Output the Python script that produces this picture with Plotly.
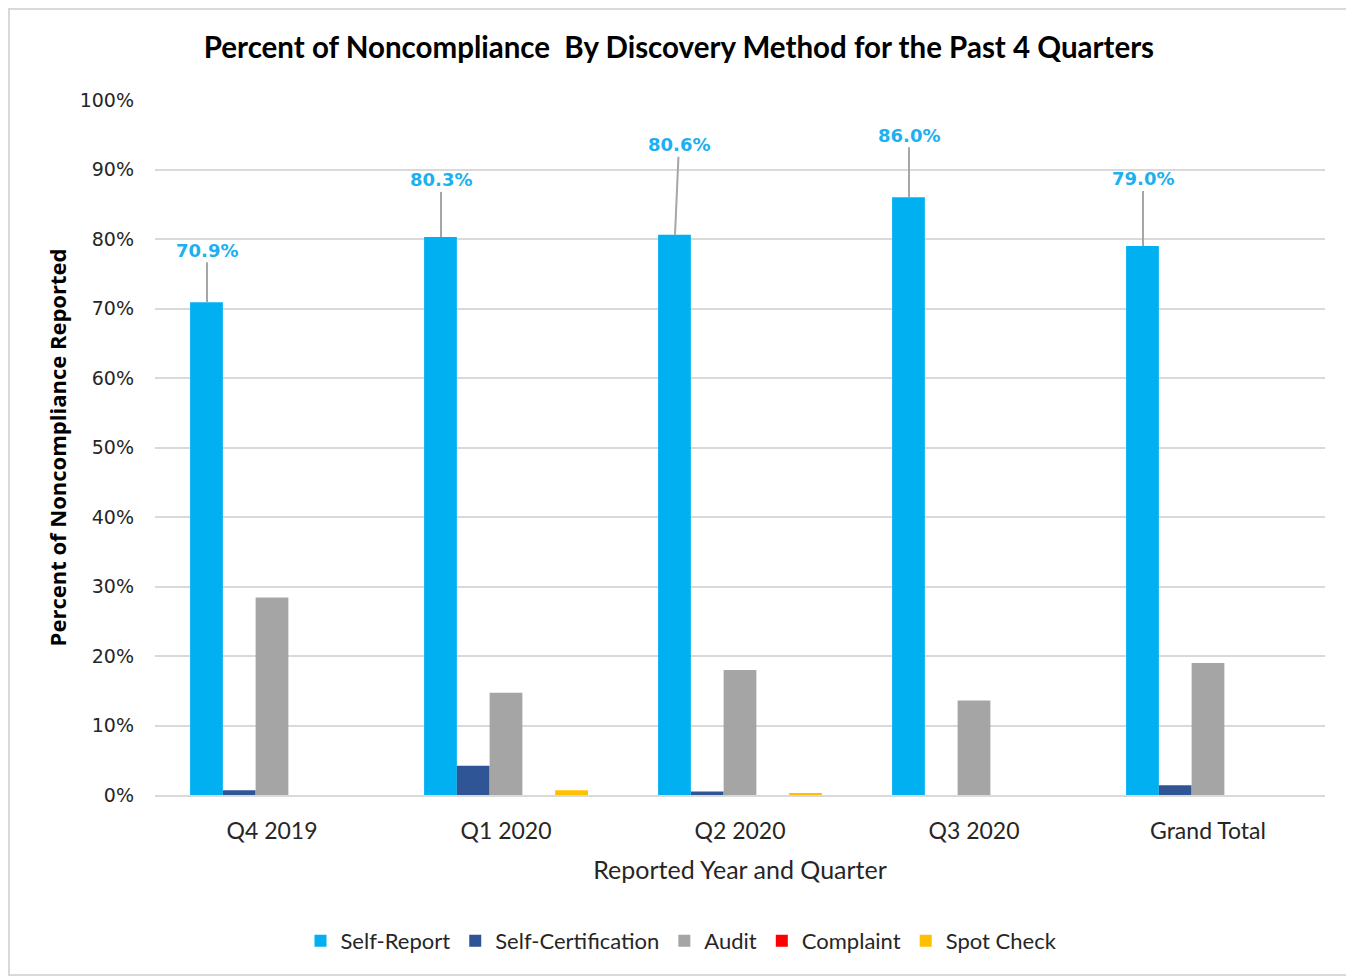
import plotly.graph_objects as go

categories = ["Q4 2019", "Q1 2020", "Q2 2020", "Q3 2020", "Grand Total"]
self_report = [70.9, 80.3, 80.6, 86.0, 79.0]
self_cert = [0.7, 4.2, 0.5, 0.0, 1.4]
audit = [28.4, 14.7, 18.0, 13.6, 19.0]
complaint = [0.0, 0.0, 0.0, 0.0, 0.0]
spot_check = [0.0, 0.7, 0.3, 0.0, 0.0]
y_ticks = [0, 10, 20, 30, 40, 50, 60, 70, 80, 90, 100]
y_tick_labels = [f"{v}%" for v in y_ticks]

series = [
    ("Self-Report", self_report, "#00B0F0"),
    ("Self-Certification", self_cert, "#2F5597"),
    ("Audit", audit, "#A5A5A5"),
    ("Complaint", complaint, "#FF0000"),
    ("Spot Check", spot_check, "#FFC000"),
]

fig = go.Figure()
for name, vals, color in series:
    fig.add_trace(go.Bar(name=name, x=categories, y=vals, marker_color=color,
                         marker_line_width=0))

# data labels for Self-Report with leader lines
label_offsets = [(0, -52), (0, -57), (4, -90), (0, -62), (0, -67)]
for cat, v, (ax, ay) in zip(categories, self_report, label_offsets):
    fig.add_annotation(x=cat, y=v, xref="x", yref="y", xshift=-65,
                       text=f"{v:.1f}%", showarrow=True, arrowhead=0,
                       arrowwidth=2, arrowcolor="#A6A6A6", ax=ax, ay=ay,
                       standoff=0, startstandoff=0,
                       font=dict(family="DejaVu Sans", size=18, color="#1CB0F0",
                                 weight="bold"))

fig.add_shape(type="rect", xref="paper", yref="paper",
              x0=-0.1248, x1=1.0214, y0=-0.259, y1=1.131,
              line=dict(color="#D9D9D9", width=2), layer="below")

fig.update_layout(
    width=1354, height=977,
    margin=dict(l=147, r=37, t=92, b=190),
    paper_bgcolor="white", plot_bgcolor="white",
    barmode="group", bargap=0.3, bargroupgap=0,
    title=dict(text="<b>Percent of Noncompliance  By Discovery Method for the Past 4 Quarters</b>",
               x=0.4955, xanchor="center", y=0.959, yanchor="middle",
               font=dict(family="Lato", size=29.5, color="#000000")),
    xaxis=dict(title=dict(text="Reported Year and Quarter", standoff=19,
                          font=dict(family="Lato", size=25, color="#262626")),
               tickfont=dict(family="Lato", size=23, color="#262626"),
               showline=True, linecolor="#D9D9D9", linewidth=2, ticks="",
               ticklabelstandoff=14),
    yaxis=dict(title=dict(text="<b>Percent of Noncompliance Reported</b>", standoff=6,
                          font=dict(family="Open Sans", size=22, color="#000000")),
               range=[0, 100], tickvals=y_ticks, ticktext=y_tick_labels,
               tickfont=dict(family="DejaVu Sans", size=19, color="#262626"),
               showgrid=True, gridcolor="#D9D9D9", gridwidth=2,
               zeroline=False, ticklabelstandoff=20),
    legend=dict(orientation="h", x=0.45, xanchor="center", y=-0.21, yanchor="middle",
                font=dict(family="Lato", size=22, color="#262626"),
                itemwidth=30, traceorder="normal"),
    showlegend=True,
)

fig.write_html("out.html")
